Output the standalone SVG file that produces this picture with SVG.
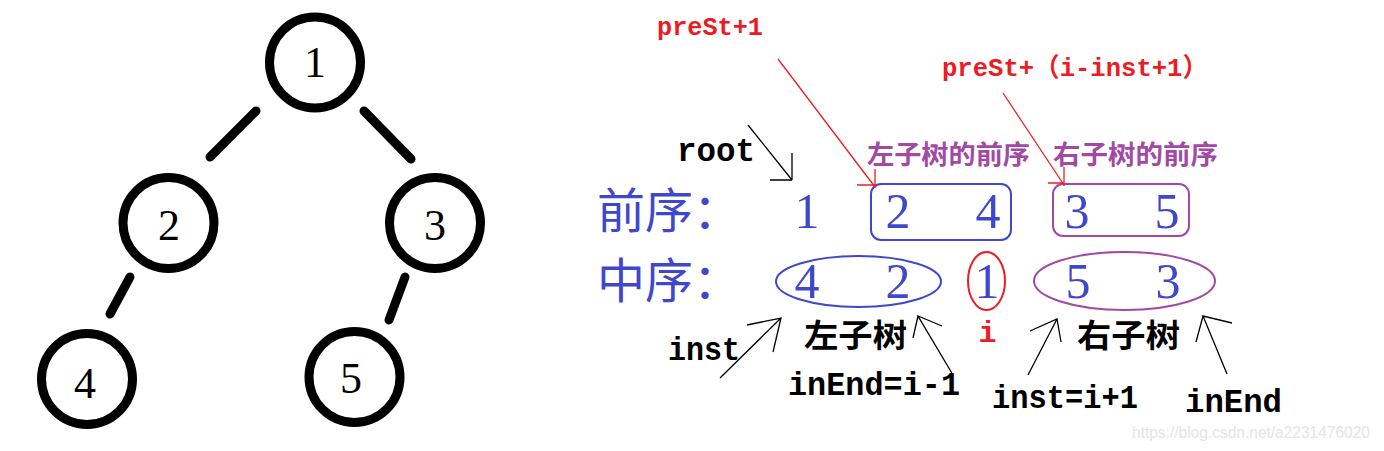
<svg xmlns="http://www.w3.org/2000/svg" width="1384" height="451" viewBox="0 0 1384 451">
<style>
.node circle{fill:none;stroke:#000;stroke-width:9}
.node text{font-family:"Liberation Serif",serif;font-size:44px;fill:#000;text-anchor:middle}
.edge{stroke:#000;stroke-width:9;stroke-linecap:round}
.big{font-family:"Noto Sans CJK SC",sans-serif;font-size:48px;fill:#3F48CC}
.dig{font-family:"Liberation Serif",serif;font-size:50px;fill:#3F48CC;text-anchor:middle}
.mono{font-family:"Liberation Mono","Noto Sans CJK SC",monospace;font-weight:bold;font-size:33px;fill:#000}
.red{fill:#ED1C24;font-size:26px}
.cjk{font-family:"Noto Sans CJK SC",sans-serif;font-weight:bold}
.pur{fill:#A349A4;font-size:26px}
.blk{fill:#000;font-size:32px}
.ln{fill:none;stroke-width:1.3}
.lr{stroke:#ED1C24}
.lb{stroke:#000}
</style>
<rect width="1384" height="451" fill="#fff"/>
<g id="tree-edges">
<line class="edge" x1="256" y1="111" x2="210" y2="157"/>
<line class="edge" x1="364" y1="111" x2="411" y2="159"/>
<line class="edge" x1="130" y1="277" x2="110" y2="314"/>
<line class="edge" x1="405" y1="277" x2="389" y2="320"/>
</g>
<g id="n1" class="node"><circle cx="315" cy="62.5" r="45.5"/><text x="315" y="77">1</text></g>
<g id="n2" class="node"><circle cx="168.5" cy="223" r="45.5"/><text x="169" y="240">2</text></g>
<g id="n3" class="node"><circle cx="435" cy="223" r="45.5"/><text x="435" y="240">3</text></g>
<g id="n4" class="node"><circle cx="87" cy="379" r="45.5"/><text x="85" y="398">4</text></g>
<g id="n5" class="node"><circle cx="354.5" cy="377" r="45.5"/><text x="351" y="393">5</text></g>

<g id="pre-row">
<text class="big" x="597" y="228">前序：</text>
<text class="dig" x="807" y="228">1</text>
<rect x="871" y="184" width="140" height="56" rx="10" fill="none" stroke="#3F48CC" stroke-width="2"/>
<text class="dig" x="898" y="228">2</text>
<text class="dig" x="988" y="228">4</text>
<rect x="1053" y="184" width="136" height="52" rx="10" fill="none" stroke="#A349A4" stroke-width="2"/>
<text class="dig" x="1077" y="228">3</text>
<text class="dig" x="1167" y="228">5</text>
</g>
<g id="in-row">
<text class="big" x="597" y="298">中序：</text>
<ellipse cx="858.5" cy="281.5" rx="82.5" ry="25.5" fill="none" stroke="#3F48CC" stroke-width="2"/>
<text class="dig" x="807" y="298">4</text>
<text class="dig" x="898" y="298">2</text>
<ellipse cx="986.5" cy="281" rx="18.5" ry="29" fill="none" stroke="#ED1C24" stroke-width="2"/>
<text class="dig" x="987" y="298">1</text>
<ellipse cx="1124.5" cy="281" rx="90.5" ry="29" fill="none" stroke="#A349A4" stroke-width="2"/>
<text class="dig" x="1078" y="298">5</text>
<text class="dig" x="1168" y="298">3</text>
</g>

<g id="labels">
<text class="mono red" x="657" y="35" textLength="106" lengthAdjust="spacingAndGlyphs">preSt+1</text>
<text class="mono red" x="942" y="76" textLength="266" lengthAdjust="spacingAndGlyphs">preSt+（i-inst+1）</text>
<text class="mono" x="677" y="161" textLength="78" lengthAdjust="spacingAndGlyphs">root</text>
<text class="cjk pur" x="867" y="164" textLength="163" lengthAdjust="spacingAndGlyphs">左子树的前序</text>
<text class="cjk pur" x="1053" y="164" textLength="165" lengthAdjust="spacingAndGlyphs">右子树的前序</text>
<text class="mono red" x="987.5" y="342" text-anchor="middle" style="font-size:30px">i</text>
<text class="cjk blk" x="804" y="347" textLength="103" lengthAdjust="spacingAndGlyphs">左子树</text>
<text class="cjk blk" x="1077" y="347" textLength="103" lengthAdjust="spacingAndGlyphs">右子树</text>
<text class="mono" x="668" y="360" textLength="72" lengthAdjust="spacingAndGlyphs">inst</text>
<text class="mono" x="788" y="395" textLength="172" lengthAdjust="spacingAndGlyphs">inEnd=i-1</text>
<text class="mono" x="992" y="408" textLength="146" lengthAdjust="spacingAndGlyphs">inst=i+1</text>
<text class="mono" x="1185" y="412" textLength="97" lengthAdjust="spacingAndGlyphs">inEnd</text>
</g>

<g id="connectors">
<path class="ln lr" d="M778 59 L875 187 M857 185 H875 M875 169 V188"/>
<path class="ln lr" d="M1003 93 L1064 185 M1048 183 H1064 M1064 167 V186"/>
<path class="ln lb" d="M748 125 L792 180 M770 180 H792 M792 153 V180"/>
<path class="ln lb" d="M720 378 L781 318 M747 325 L781 318 L773 352"/>
<path class="ln lb" d="M953 375 L918 316 L942 326 M918 316 L913 338"/>
<path class="ln lb" d="M1028 375 L1057 319 M1030 331 L1057 319 L1061 342"/>
<path class="ln lb" d="M1227 374 L1203 316 L1232 323 M1203 316 L1196 342"/>
</g>

<text x="1132" y="438" font-family="Liberation Sans, sans-serif" font-size="16" fill="#e4e4e4" textLength="238" lengthAdjust="spacingAndGlyphs">https://blog.csdn.net/a2231476020</text>
</svg>
